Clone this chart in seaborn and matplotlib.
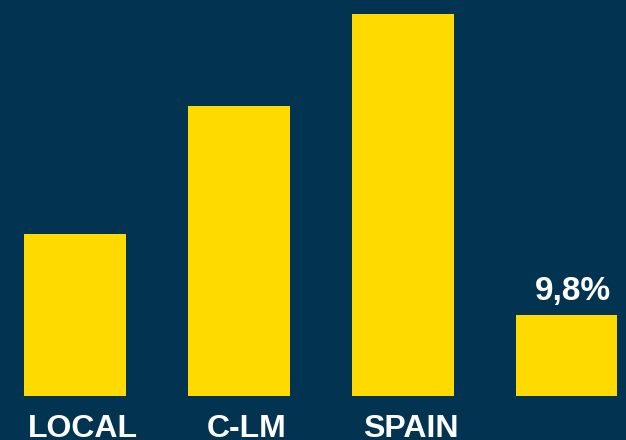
import matplotlib
matplotlib.use("Agg")
import matplotlib.pyplot as plt
import matplotlib.transforms as mtransforms
import seaborn as sns

# datos
categorias = ["LOCAL", "C-LM", "SPAIN", "OTRO"]
etiquetas = ["LOCAL", "C-LM", "SPAIN", ""]
valores = [19.6, 35.1, 46.2, 9.8]
texto_valor = ["", "", "", "9,8%"]

fondo = "#023452"
amarillo = "#FFDA00"

sns.set_theme(style="white")
plt.rcParams["font.family"] = ["Liberation Sans", "DejaVu Sans"]

fig = plt.figure(figsize=(6.26, 4.4), dpi=100, facecolor=fondo)
ax = fig.add_axes([0, 0.1, 1, 0.9])
ax.set_facecolor(fondo)

sns.barplot(x=categorias, y=valores, color=amarillo, width=0.62,
            saturation=1, linewidth=0, ax=ax)

for i, (v, t) in enumerate(zip(valores, texto_valor)):
    if t:
        ax.text(i + 0.04, v + 1.0, t, ha="center", va="bottom",
                color="white", fontsize=24, fontweight="bold")

ax.set_xlim(-0.457, 3.362)
ax.set_ylim(0, 47.9)
ax.set_xticks(range(len(etiquetas)))
ax.set_xticklabels(etiquetas, color="white", fontsize=23, fontweight="bold")
ax.tick_params(axis="x", length=0, pad=13)

# las etiquetas estan un poco a la derecha de las barras
desplaza = mtransforms.ScaledTranslation(8 / 100, 0, fig.dpi_scale_trans)
for lab in ax.get_xticklabels():
    lab.set_transform(lab.get_transform() + desplaza)

ax.set_yticks([])
ax.set_xlabel("")
ax.set_ylabel("")
sns.despine(ax=ax, left=True, bottom=True)

fig.savefig("out.png", dpi=100, facecolor=fondo)
